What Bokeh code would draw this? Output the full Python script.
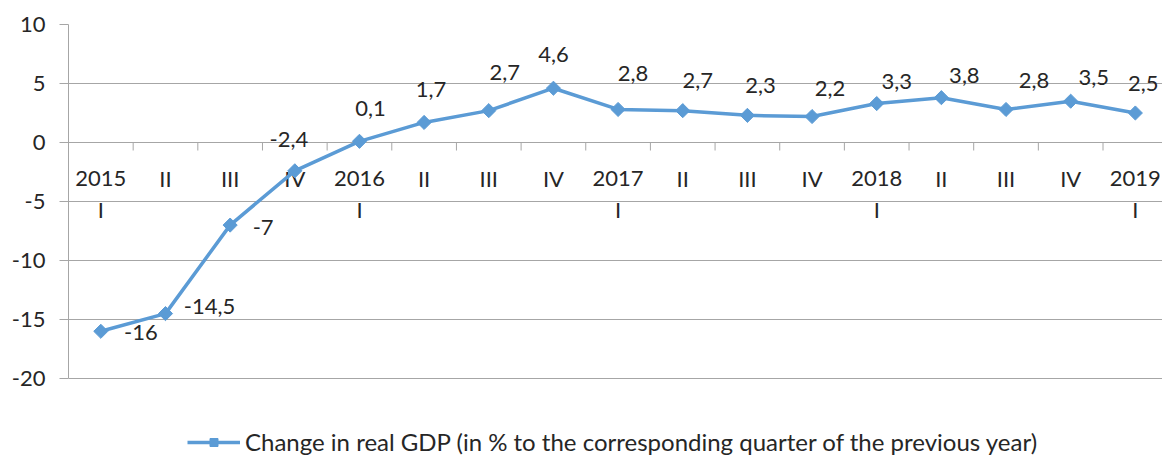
from bokeh.plotting import figure
from bokeh.models import Range1d, ColumnDataSource, Legend, LegendItem, FixedTicker, CustomJSTickFormatter
from bokeh.core.properties import value
from bokeh.embed import file_html
from bokeh.resources import INLINE
import math

# ---- data ----
labels_top = ["2015", "II", "III", "IV", "2016", "II", "III", "IV", "2017",
              "II", "III", "IV", "2018", "II", "III", "IV", "2019"]
labels_bottom = ["I", "", "", "", "I", "", "", "", "I", "", "", "", "I", "", "", "", "I"]
gdp_change = [-16, -14.5, -7, -2.4, 0.1, 1.7, 2.7, 4.6, 2.8, 2.7, 2.3, 2.2, 3.3, 3.8, 2.8, 3.5, 2.5]
y_ticks = [-20, -15, -10, -5, 0, 5, 10]
series_name = "Change in real GDP (in % to the corresponding quarter of the previous year)"

# ---- layout / style (label nudges in screen px) ----
label_dx = [40, 44, 33, -6, 11, 7, 16, 0, 15, 15, 13, 18, 20, 23, 28, 23, 8]
label_dy = [1, -7, 2, -31, -33, -33, -38, -34, -36, -30, -30, -28, -22, -22, -29, -24, -30]

FONT = value("Lato")
TXT = "#262626"
GRID = "#A6A6A6"
BLUE = "#5B9BD5"
FS = "22px"

n = len(gdp_change)
xs = list(range(n))
src = ColumnDataSource(dict(
    x=xs, y=gdp_change,
    lab=[f"{v:g}".replace(".", ",") for v in gdp_change],
    dx=label_dx, dy=label_dy,
    top=labels_top, bottom=labels_bottom,
    zero=[0] * n,
))

# frame spans down to the bottom of the canvas so the legend can sit there
px_per_unit = 354 / 30.0
y_bottom = -20 - 78 / px_per_unit

p = figure(width=1162, height=456, output_backend="svg", toolbar_location=None,
           x_range=Range1d(-0.5, 16.42), y_range=Range1d(y_bottom, 10),
           x_axis_type=None,
           min_border_left=68, min_border_right=0, min_border_top=24, min_border_bottom=0)
p.outline_line_color = None
p.background_fill_color = "white"
p.border_fill_color = "white"

# y axis
p.yaxis.ticker = FixedTicker(ticks=y_ticks)
p.yaxis.bounds = (min(y_ticks), max(y_ticks))
p.yaxis.formatter = CustomJSTickFormatter(code="return tick.toString();")
p.yaxis.axis_line_color = GRID
p.yaxis.major_tick_line_color = GRID
p.yaxis.major_tick_out = 9
p.yaxis.major_tick_in = 0
p.yaxis.minor_tick_line_color = None
p.yaxis.major_label_text_font = "Lato"
p.yaxis.major_label_text_font_size = FS
p.yaxis.major_label_text_color = TXT
p.yaxis.major_label_standoff = 14
p.ygrid.grid_line_color = GRID
p.ygrid.ticker = FixedTicker(ticks=y_ticks)
p.xgrid.grid_line_color = None

# category tick marks on the zero line
bounds = [i + 0.5 for i in range(n - 1)]
p.ray(x=bounds, y=[0] * len(bounds), length=8, length_units="screen",
      angle=-math.pi / 2, line_color=GRID, line_width=1)

# category labels along zero line
p.text(x="x", y="zero", text="top", source=src, y_offset=36,
       text_align="center", text_baseline="middle",
       text_font=FONT, text_font_size=FS, text_color=TXT)
p.text(x="x", y="zero", text="bottom", source=src, y_offset=67,
       text_align="center", text_baseline="middle",
       text_font=FONT, text_font_size=FS, text_color=TXT)

# series
line = p.line("x", "y", source=src, line_color=BLUE, line_width=3.5)
pts = p.scatter("x", "y", source=src, marker="square", angle=math.pi / 4, size=10,
                fill_color=BLUE, line_color=BLUE)

# data labels
p.text(x="x", y="y", text="lab", source=src, x_offset="dx", y_offset="dy",
       text_align="center", text_baseline="middle",
       text_font=FONT, text_font_size=FS, text_color=TXT)

legend = Legend(items=[LegendItem(label=series_name, renderers=[line, pts])],
                location=(119, 0), orientation="horizontal",
                glyph_width=53, glyph_height=20, label_standoff=5,
                padding=0, margin=0, border_line_color=None,
                background_fill_alpha=0,
                label_text_font="Lato", label_text_font_size="24px",
                label_text_color=TXT)
p.add_layout(legend, "center")

open("out.html", "w").write(file_html(p, INLINE))
